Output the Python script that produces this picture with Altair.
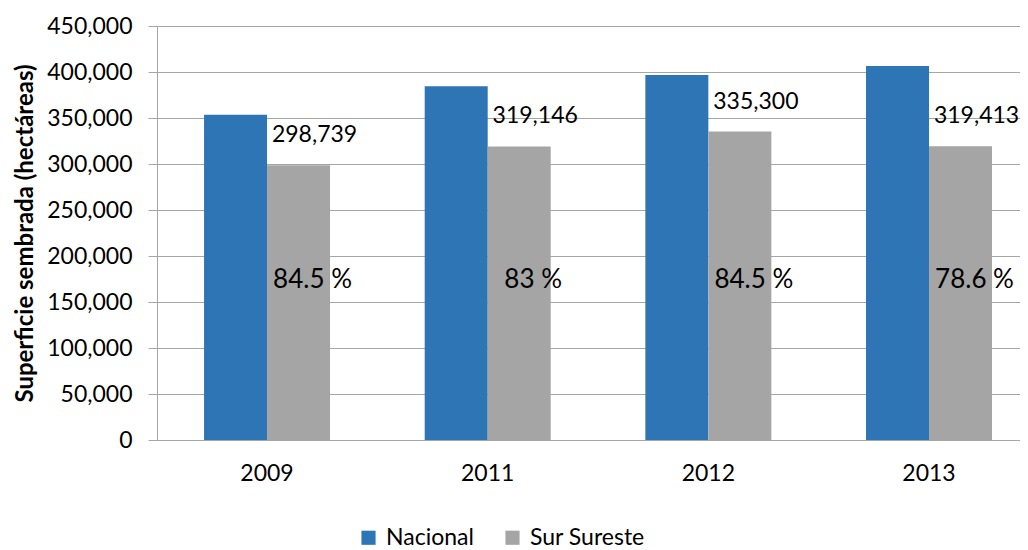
import altair as alt
import pandas as pd

years = ["2009", "2011", "2012", "2013"]
series = ["Nacional", "Sur Sureste"]
nacional = [353500, 384500, 396800, 406400]
sur_sureste = [298739, 319146, 335300, 319413]
porcentaje = ["84.5 %", "83 %", "84.5 %", "78.6 %"]

rows = []
for i, y in enumerate(years):
    rows.append({"year": y, "serie": "Nacional", "value": nacional[i], "pct": ""})
    rows.append({"year": y, "serie": "Sur Sureste", "value": sur_sureste[i], "pct": porcentaje[i]})
df = pd.DataFrame(rows)

FONT = "Lato"

y_axis = alt.Axis(title="Superficie sembrada (hectáreas)", format=",.0f",
                  values=list(range(0, 450001, 50000)),
                  titleFontSize=24, titleFontWeight="bold", titleFont=FONT,
                  titleColor="#000000", titlePadding=9,
                  labelFontSize=23, labelColor="#000000", labelFont=FONT,
                  labelPadding=16, tickSize=9, tickColor="#A6A6A6",
                  domainColor="#A6A6A6", gridColor="#A6A6A6", gridWidth=1.2)
y_scale = alt.Scale(domain=[0, 450000], nice=False)

x_enc = alt.X("year:N", sort=years,
              scale=alt.Scale(paddingInner=0.429, paddingOuter=0.17, align=0.627),
              axis=alt.Axis(title=None, labelAngle=0, ticks=False, labelPadding=22,
                            labelFontSize=23, labelColor="#000000", labelFont=FONT,
                            domainColor="#A6A6A6", domainWidth=1.2, grid=False))

bars = alt.Chart(df).mark_bar().encode(
    x=x_enc,
    xOffset=alt.XOffset("serie:N", sort=series),
    y=alt.Y("value:Q", scale=y_scale, axis=y_axis),
    color=alt.Color("serie:N", sort=series,
                    scale=alt.Scale(domain=series, range=["#2E75B6", "#A5A5A5"]),
                    legend=alt.Legend(title=None, orient="none", direction="horizontal",
                                      legendX=200, legendY=500,
                                      symbolType="square", symbolSize=200,
                                      symbolStrokeWidth=0, labelFontSize=23,
                                      labelFont=FONT, labelColor="#000000",
                                      labelOffset=6, columnPadding=27)),
)

value_labels = alt.Chart(df).transform_filter(
    alt.datum.serie == "Sur Sureste"
).mark_text(fontSize=23, font=FONT, color="#000000", dx=16, dy=-30, baseline="middle").encode(
    x=alt.X("year:N", sort=years),
    xOffset=alt.XOffset("serie:N", sort=series),
    y=alt.Y("value:Q", scale=y_scale, axis=y_axis),
    text=alt.Text("value:Q", format=","),
)

pct_labels = alt.Chart(df).transform_filter(
    alt.datum.serie == "Sur Sureste"
).mark_text(fontSize=26, font=FONT, color="#000000", dx=14, baseline="middle").encode(
    x=alt.X("year:N", sort=years),
    xOffset=alt.XOffset("serie:N", sort=series),
    y=alt.YDatum(174000, type="quantitative", scale=y_scale, axis=y_axis),
    text="pct:N",
)

chart = alt.layer(bars, value_labels, pct_labels).properties(
    width=863, height=414,
    autosize=alt.AutoSizeParams(type="none"),
    padding={"left": 149, "top": 18, "right": 0, "bottom": 110},
).configure_view(stroke=None)

chart.save("out.html", embed_options={"renderer": "svg", "actions": False})
